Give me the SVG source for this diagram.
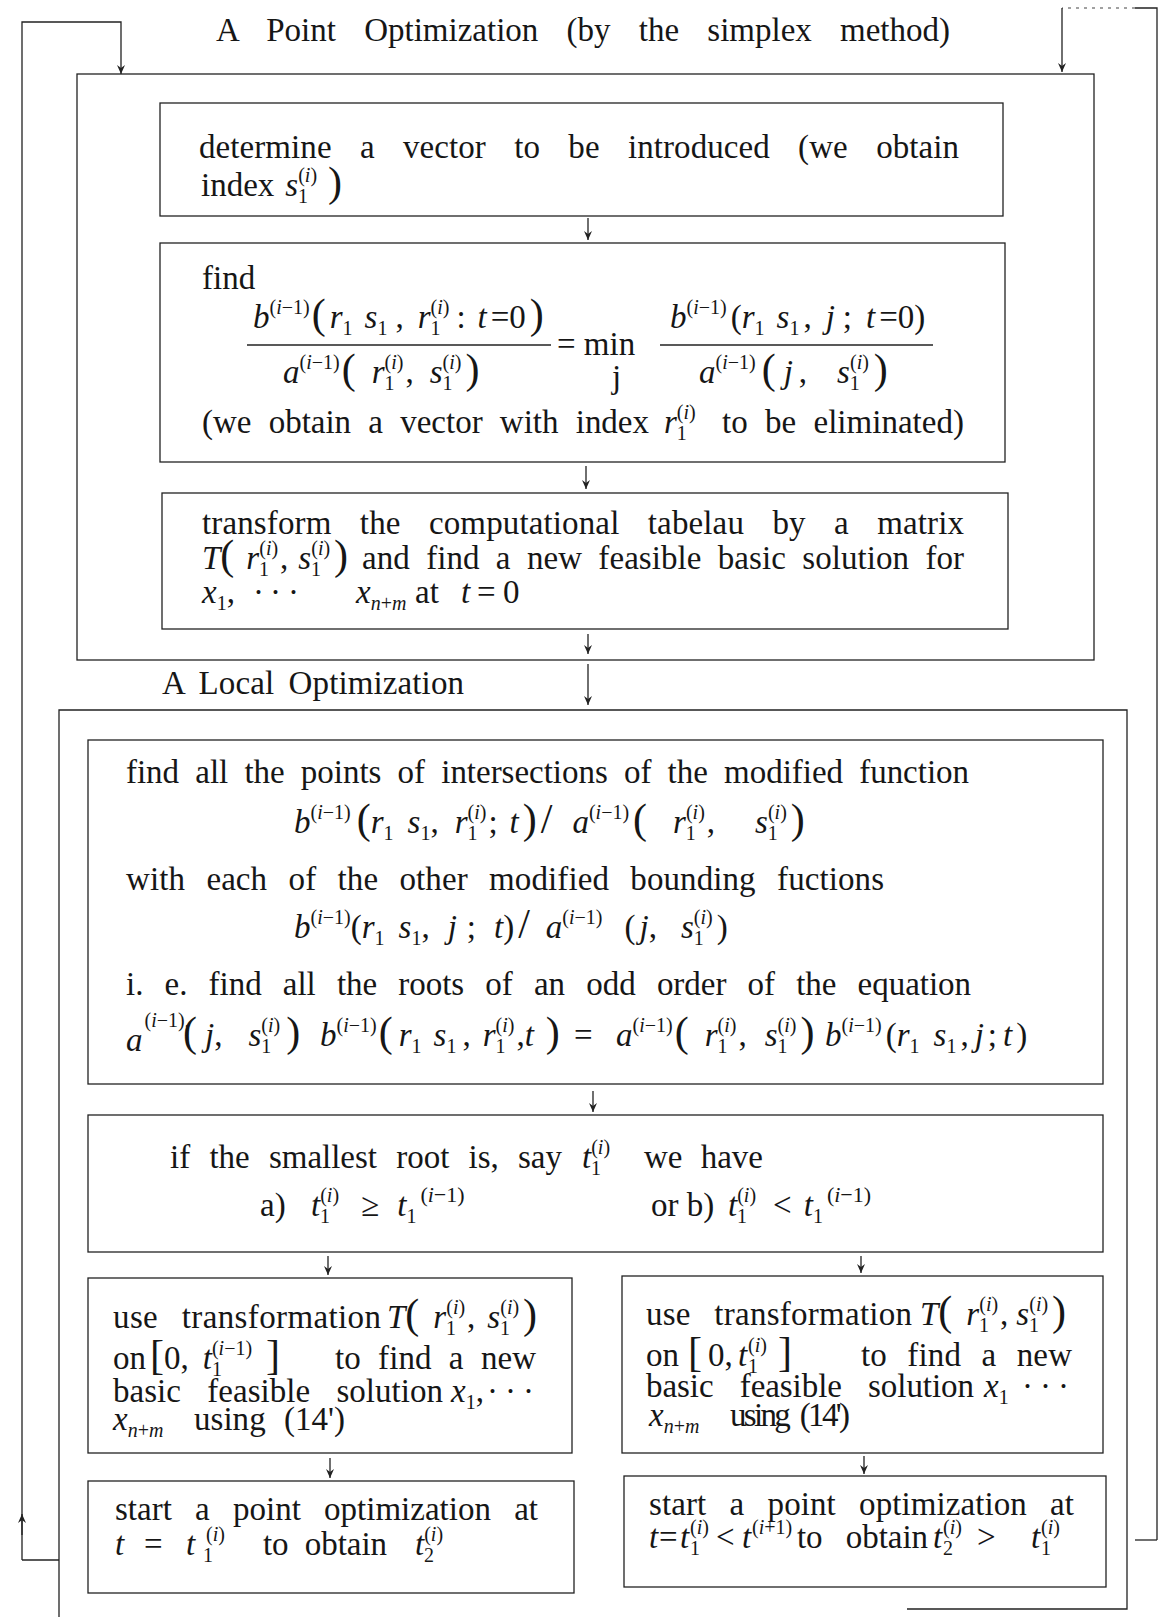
<svg xmlns="http://www.w3.org/2000/svg" width="1170" height="1617" viewBox="0 0 1170 1617">
<style>
.t{font-family:"Liberation Serif","DejaVu Serif",serif;font-size:33px;fill:#161616}
.i{font-style:italic}
.s{font-size:20px}
.p{font-size:42px}
.bx{fill:none;stroke:#222;stroke-width:1.3}
.ln{fill:none;stroke:#222;stroke-width:1.3}
.dot{fill:none;stroke:#444;stroke-width:1.2;stroke-dasharray:3 5}
</style>
<defs>
<marker id="ah" markerWidth="10" markerHeight="10" refX="9" refY="5" orient="auto" markerUnits="userSpaceOnUse" viewBox="0 0 10 10">
<path d="M0,1 L9,5 L0,9 L3,5 Z" fill="#222"/>
</marker>
</defs>
<rect width="1170" height="1617" fill="#fff"/>

<g id="connectors">
<path class="ln" d="M22,1560 V22 H121 V74" marker-end="url(#ah)"/>
<path class="ln" d="M22,1560 H59"/>
<path class="ln" d="M22,1535 V1514" marker-end="url(#ah)"/>
<path class="ln" d="M1157,1540 V8 H1135"/>
<path class="dot" d="M1135,8 H1062"/>
<path class="ln" d="M1062,8 V72" marker-end="url(#ah)"/>
<path class="ln" d="M1135,1540 H1157"/>
<path class="ln" d="M588,218 V240" marker-end="url(#ah)"/>
<path class="ln" d="M586,466 V489" marker-end="url(#ah)"/>
<path class="ln" d="M588,634 V654" marker-end="url(#ah)"/>
<path class="ln" d="M588,664 V705" marker-end="url(#ah)"/>
<path class="ln" d="M593,1091 V1112" marker-end="url(#ah)"/>
<path class="ln" d="M328,1256 V1275" marker-end="url(#ah)"/>
<path class="ln" d="M861,1256 V1273" marker-end="url(#ah)"/>
<path class="ln" d="M330,1458 V1478" marker-end="url(#ah)"/>
<path class="ln" d="M864,1456 V1474" marker-end="url(#ah)"/>
</g>

<g id="title">
<text class="t" x="216" y="41" textLength="734" lengthAdjust="spacing" word-spacing="20">A Point Optimization (by the simplex method)</text>
</g>

<g id="point-optimization">
<rect class="bx" x="77" y="74" width="1017" height="586"/>
</g>

<g id="determine-vector">
<rect class="bx" x="160" y="103" width="843" height="113"/>
<text class="t" x="199" y="158" textLength="760" lengthAdjust="spacing" word-spacing="20">determine a vector to be introduced (we obtain</text>
<text class="t" x="201" y="196">index<tspan class="i" dx="11">s</tspan><tspan class="s" dy="-14">(<tspan class="i">i</tspan>)</tspan><tspan class="s" dx="-19" dy="21">1</tspan><tspan class="p" dx="20" dy="-7">)</tspan></text>
</g>

<g id="find-ratio">
<rect class="bx" x="160" y="243" width="845" height="219"/>
<text class="t" x="202" y="289">find</text>
<text class="t" x="253" y="328"><tspan class="i">b</tspan><tspan class="s" dy="-14">(<tspan class="i">i</tspan>−1)</tspan><tspan class="p" dy="14" dx="2">(</tspan><tspan class="i" dx="4">r</tspan><tspan class="s" dy="7">1</tspan><tspan class="i" dx="12" dy="-7">s</tspan><tspan class="s" dy="7">1</tspan><tspan dy="-7" dx="8">,</tspan><tspan class="i" dx="14">r</tspan><tspan class="s" dy="-14">(<tspan class="i">i</tspan>)</tspan><tspan class="s" dx="-19" dy="21">1</tspan><tspan dx="16" dy="-7">:</tspan><tspan class="i" dx="12">t</tspan><tspan dx="4">=0</tspan><tspan class="p" dx="4">)</tspan></text>
<line class="ln" x1="247" y1="345" x2="551" y2="345"/>
<text class="t" x="283" y="383"><tspan class="i">a</tspan><tspan class="s" dy="-14">(<tspan class="i">i</tspan>−1)</tspan><tspan class="p" dy="14" dx="2">(</tspan><tspan class="i" dx="16">r</tspan><tspan class="s" dy="-14">(<tspan class="i">i</tspan>)</tspan><tspan class="s" dx="-19" dy="21">1</tspan><tspan dx="11" dy="-7">,</tspan><tspan class="i" dx="16">s</tspan><tspan class="s" dy="-14">(<tspan class="i">i</tspan>)</tspan><tspan class="s" dx="-19" dy="21">1</tspan><tspan class="p" dx="13" dy="-7">)</tspan></text>
<text class="t" x="557" y="355">= min</text>
<text class="t" x="612" y="388">j</text>
<text class="t" x="670" y="328"><tspan class="i">b</tspan><tspan class="s" dy="-14">(<tspan class="i">i</tspan>−1)</tspan><tspan dy="14" dx="4">(</tspan><tspan class="i">r</tspan><tspan class="s" dy="7">1</tspan><tspan class="i" dx="12" dy="-7">s</tspan><tspan class="s" dy="7">1</tspan><tspan dy="-7" dx="4">,</tspan><tspan class="i" dx="14">j</tspan><tspan dx="8">;</tspan><tspan class="i" dx="14">t</tspan><tspan dx="4">=0)</tspan></text>
<line class="ln" x1="660" y1="345" x2="933" y2="345"/>
<text class="t" x="699" y="383"><tspan class="i">a</tspan><tspan class="s" dy="-14">(<tspan class="i">i</tspan>−1)</tspan><tspan class="p" dy="14" dx="6">(</tspan><tspan class="i" dx="8">j</tspan><tspan dx="6">,</tspan><tspan class="i" dx="30">s</tspan><tspan class="s" dy="-14">(<tspan class="i">i</tspan>)</tspan><tspan class="s" dx="-19" dy="21">1</tspan><tspan class="p" dx="14" dy="-7">)</tspan></text>
<text class="t" x="202" y="433" textLength="447" lengthAdjust="spacing" word-spacing="9">(we obtain a vector with index</text>
<text class="t" x="664" y="433"><tspan class="i">r</tspan><tspan class="s" dy="-14">(<tspan class="i">i</tspan>)</tspan><tspan class="s" dx="-19" dy="21">1</tspan></text>
<text class="t" x="722" y="433" textLength="242" lengthAdjust="spacing" word-spacing="9">to be eliminated)</text>
</g>

<g id="transform-tableau">
<rect class="bx" x="162" y="493" width="846" height="136"/>
<text class="t" x="202" y="534" textLength="762" lengthAdjust="spacing" word-spacing="20">transform the computational tabelau by a matrix</text>
<text class="t" x="202" y="569"><tspan class="i">T</tspan><tspan class="p">(</tspan><tspan class="i" dx="12">r</tspan><tspan class="s" dy="-14">(<tspan class="i">i</tspan>)</tspan><tspan class="s" dx="-19" dy="21">1</tspan><tspan dx="11" dy="-7">,</tspan><tspan class="i" dx="10">s</tspan><tspan class="s" dy="-14">(<tspan class="i">i</tspan>)</tspan><tspan class="s" dx="-19" dy="21">1</tspan><tspan class="p" dx="13" dy="-7">)</tspan></text>
<text class="t" x="362" y="569" textLength="602" lengthAdjust="spacing" word-spacing="8">and find a new feasible basic solution for</text>
<text class="t" x="202" y="603"><tspan class="i">x</tspan><tspan class="s" dy="7">1</tspan><tspan dy="-7">,</tspan><tspan x="253">·</tspan><tspan x="270">·</tspan><tspan x="288">·</tspan></text>
<text class="t" x="356" y="603"><tspan class="i">x</tspan><tspan class="s i" dy="7">n</tspan><tspan class="s">+</tspan><tspan class="s i">m</tspan><tspan x="415" dy="-7">at</tspan><tspan class="i" x="461">t</tspan><tspan x="477">=</tspan><tspan x="503">0</tspan></text>
</g>

<g id="local-optimization">
<path class="bx" d="M59,1617 V710 H1127 V1609 H907"/>
<text class="t" x="162" y="694" textLength="302" lengthAdjust="spacing" word-spacing="6">A Local Optimization</text>
</g>

<g id="find-intersections">
<rect class="bx" x="88" y="740" width="1015" height="344"/>
<text class="t" x="126" y="783" textLength="843" lengthAdjust="spacing" word-spacing="8">find all the points of intersections of the modified function</text>
<text class="t" x="294" y="833"><tspan class="i">b</tspan><tspan class="s" dy="-14">(<tspan class="i">i</tspan>−1)</tspan><tspan class="p" dy="14" dx="6">(</tspan><tspan class="i">r</tspan><tspan class="s" dy="7">1</tspan><tspan class="i" dx="14" dy="-7">s</tspan><tspan class="s" dy="7">1</tspan><tspan dy="-7">,</tspan><tspan class="i" dx="16">r</tspan><tspan class="s" dy="-14">(<tspan class="i">i</tspan>)</tspan><tspan class="s" dx="-19" dy="21">1</tspan><tspan dx="11" dy="-7">;</tspan><tspan class="i" dx="12">t</tspan><tspan class="p" dx="4">)</tspan><tspan class="p" dx="4">/</tspan><tspan class="i" dx="20">a</tspan><tspan class="s" dy="-14">(<tspan class="i">i</tspan>−1)</tspan><tspan class="p" dy="14" dx="4">(</tspan><tspan class="i" dx="26">r</tspan><tspan class="s" dy="-14">(<tspan class="i">i</tspan>)</tspan><tspan class="s" dx="-19" dy="21">1</tspan><tspan dx="11" dy="-7">,</tspan><tspan class="i" dx="40">s</tspan><tspan class="s" dy="-14">(<tspan class="i">i</tspan>)</tspan><tspan class="s" dx="-19" dy="21">1</tspan><tspan class="p" dx="13" dy="-7">)</tspan></text>
<text class="t" x="126" y="890" textLength="758" lengthAdjust="spacing" word-spacing="13">with each of the other modified bounding fuctions</text>
<text class="t" x="294" y="938"><tspan class="i">b</tspan><tspan class="s" dy="-14">(<tspan class="i">i</tspan>−1)</tspan><tspan dy="14">(</tspan><tspan class="i">r</tspan><tspan class="s" dy="7">1</tspan><tspan class="i" dx="14" dy="-7">s</tspan><tspan class="s" dy="7">1</tspan><tspan dy="-7">,</tspan><tspan class="i" dx="18">j</tspan><tspan dx="10">;</tspan><tspan class="i" dx="18">t</tspan>)<tspan class="p" dx="4">/</tspan><tspan class="i" dx="16">a</tspan><tspan class="s" dy="-14">(<tspan class="i">i</tspan>−1)</tspan><tspan dx="22" dy="14">(</tspan><tspan class="i" dx="4">j</tspan>,<tspan class="i" dx="24">s</tspan><tspan class="s" dy="-14">(<tspan class="i">i</tspan>)</tspan><tspan class="s" dx="-19" dy="21">1</tspan><tspan dx="13" dy="-7">)</tspan></text>
<text class="t" x="126" y="995" textLength="845" lengthAdjust="spacing" word-spacing="13">i. e. find all the roots of an odd order of the equation</text>
<text class="t" x="126" y="1051"><tspan class="i">a</tspan><tspan class="s" dy="-24" dx="2">(<tspan class="i">i</tspan>−1),</tspan></text>
<text class="t" x="183" y="1046"><tspan class="p">(</tspan><tspan class="i" dx="8">j</tspan>,<tspan class="i" dx="26">s</tspan><tspan class="s" dy="-14">(<tspan class="i">i</tspan>)</tspan><tspan class="s" dx="-19" dy="21">1</tspan><tspan class="p" dx="15" dy="-7">)</tspan></text>
<text class="t" x="320" y="1046"><tspan class="i">b</tspan><tspan class="s" dy="-14">(<tspan class="i">i</tspan>−1)</tspan><tspan class="p" dy="14" dx="2">(</tspan><tspan class="i" dx="6">r</tspan><tspan class="s" dy="7">1</tspan><tspan class="i" dx="12" dy="-7">s</tspan><tspan class="s" dy="7">1</tspan><tspan dy="-7" dx="6">,</tspan><tspan class="i" dx="12">r</tspan><tspan class="s" dy="-14">(<tspan class="i">i</tspan>)</tspan><tspan class="s" dx="-19" dy="21">1</tspan><tspan dx="11" dy="-7">,</tspan><tspan class="i">t</tspan><tspan class="p" dx="12">)</tspan></text>
<text class="t" x="574" y="1046">=</text>
<text class="t" x="616" y="1046"><tspan class="i">a</tspan><tspan class="s" dy="-14">(<tspan class="i">i</tspan>−1)</tspan><tspan class="p" dy="14" dx="2">(</tspan><tspan class="i" dx="16">r</tspan><tspan class="s" dy="-14">(<tspan class="i">i</tspan>)</tspan><tspan class="s" dx="-19" dy="21">1</tspan><tspan dx="11" dy="-7">,</tspan><tspan class="i" dx="18">s</tspan><tspan class="s" dy="-14">(<tspan class="i">i</tspan>)</tspan><tspan class="s" dx="-19" dy="21">1</tspan><tspan class="p" dx="13" dy="-7">)</tspan></text>
<text class="t" x="825" y="1046"><tspan class="i">b</tspan><tspan class="s" dy="-14">(<tspan class="i">i</tspan>−1)</tspan><tspan dy="14" dx="4">(</tspan><tspan class="i">r</tspan><tspan class="s" dy="7">1</tspan><tspan class="i" dx="14" dy="-7">s</tspan><tspan class="s" dy="7">1</tspan><tspan dy="-7" dx="4">,</tspan><tspan class="i" dx="6">j</tspan><tspan dx="4">;</tspan><tspan class="i" dx="6">t</tspan><tspan dx="4">)</tspan></text>
</g>

<g id="smallest-root">
<rect class="bx" x="88" y="1115" width="1015" height="137"/>
<text class="t" x="170" y="1168" textLength="392" lengthAdjust="spacing" word-spacing="11">if the smallest root is, say</text>
<text class="t" x="582" y="1168"><tspan class="i">t</tspan><tspan class="s" dy="-14">(<tspan class="i">i</tspan>)</tspan><tspan class="s" dx="-19" dy="21">1</tspan></text>
<text class="t" x="644" y="1168" textLength="119" lengthAdjust="spacing" word-spacing="10">we have</text>
<text class="t" x="260" y="1216">a)</text>
<text class="t" x="311" y="1216"><tspan class="i">t</tspan><tspan class="s" dy="-14">(<tspan class="i">i</tspan>)</tspan><tspan class="s" dx="-19" dy="21">1</tspan><tspan dx="31" dy="-7">≥</tspan><tspan class="i" dx="18">t</tspan><tspan class="s" dy="7">1</tspan><tspan class="s" dy="-21" dx="4" style="font-size:22px">(<tspan class="i">i</tspan>−1)</tspan></text>
<text class="t" x="651" y="1216">or b)</text>
<text class="t" x="728" y="1216"><tspan class="i">t</tspan><tspan class="s" dy="-14">(<tspan class="i">i</tspan>)</tspan><tspan class="s" dx="-19" dy="21">1</tspan><tspan dx="26" dy="-7">&lt;</tspan><tspan class="i" dx="12">t</tspan><tspan class="s" dy="7">1</tspan><tspan class="s" dy="-21" dx="4" style="font-size:22px">(<tspan class="i">i</tspan>−1)</tspan></text>
</g>

<g id="transform-a">
<rect class="bx" x="88" y="1278" width="484" height="175"/>
<text class="t" x="113" y="1328" textLength="268" lengthAdjust="spacing" word-spacing="15">use transformation</text>
<text class="t" x="387" y="1328"><tspan class="i">T</tspan><tspan class="p">(</tspan><tspan class="i" dx="14">r</tspan><tspan class="s" dy="-14">(<tspan class="i">i</tspan>)</tspan><tspan class="s" dx="-19" dy="21">1</tspan><tspan dx="11" dy="-7">,</tspan><tspan class="i" dx="12">s</tspan><tspan class="s" dy="-14">(<tspan class="i">i</tspan>)</tspan><tspan class="s" dx="-19" dy="21">1</tspan><tspan class="p" dx="13" dy="-7">)</tspan></text>
<text class="t" x="113" y="1369">on<tspan class="p" dx="4">[</tspan>0,<tspan class="i" dx="14">t</tspan><tspan class="s" dy="-14">(<tspan class="i">i</tspan>−1)</tspan><tspan class="s" dx="-40" dy="21">1</tspan><tspan class="p" dx="44" dy="-7">]</tspan></text>
<text class="t" x="335" y="1369" textLength="201" lengthAdjust="spacing" word-spacing="9">to find a new</text>
<text class="t" x="113" y="1402" textLength="330" lengthAdjust="spacing" word-spacing="18">basic feasible solution</text>
<text class="t" x="451" y="1402"><tspan class="i">x</tspan><tspan class="s" dy="7">1</tspan><tspan dy="-7">,</tspan><tspan x="487">·</tspan><tspan x="505">·</tspan><tspan x="523">·</tspan></text>
<text class="t" x="113" y="1430"><tspan class="i">x</tspan><tspan class="s i" dy="7">n</tspan><tspan class="s">+</tspan><tspan class="s i">m</tspan></text>
<text class="t" x="194" y="1430" textLength="151" lengthAdjust="spacing" word-spacing="10">using (14')</text>
</g>

<g id="transform-b">
<rect class="bx" x="622" y="1276" width="481" height="177"/>
<text class="t" x="646" y="1325" textLength="266" lengthAdjust="spacing" word-spacing="15">use transformation</text>
<text class="t" x="920" y="1325"><tspan class="i">T</tspan><tspan class="p">(</tspan><tspan class="i" dx="14">r</tspan><tspan class="s" dy="-14">(<tspan class="i">i</tspan>)</tspan><tspan class="s" dx="-19" dy="21">1</tspan><tspan dx="11" dy="-7">,</tspan><tspan class="i" dx="8">s</tspan><tspan class="s" dy="-14">(<tspan class="i">i</tspan>)</tspan><tspan class="s" dx="-19" dy="21">1</tspan><tspan class="p" dx="13" dy="-7">)</tspan></text>
<text class="t" x="646" y="1366">on<tspan class="p" x="688">[</tspan><tspan x="708">0,</tspan><tspan class="i" x="738">t</tspan><tspan class="s" x="748" dy="-14">(<tspan class="i">i</tspan>)</tspan><tspan class="s" x="748" dy="21">1</tspan><tspan class="p" x="778" dy="-7">]</tspan></text>
<text class="t" x="861" y="1366" textLength="211" lengthAdjust="spacing" word-spacing="12">to find a new</text>
<text class="t" x="646" y="1397" textLength="328" lengthAdjust="spacing" word-spacing="18">basic feasible solution</text>
<text class="t" x="984" y="1397"><tspan class="i">x</tspan><tspan class="s" dy="7">1</tspan><tspan x="1022" dy="-7">·</tspan><tspan x="1040">·</tspan><tspan x="1058">·</tspan></text>
<text class="t" x="649" y="1426"><tspan class="i">x</tspan><tspan class="s i" dy="7">n</tspan><tspan class="s">+</tspan><tspan class="s i">m</tspan></text>
<text class="t" x="730" y="1426" textLength="120" lengthAdjust="spacing" word-spacing="6">using (14')</text>
</g>

<g id="start-point-a">
<rect class="bx" x="88" y="1481" width="486" height="112"/>
<text class="t" x="115" y="1520" textLength="423" lengthAdjust="spacing" word-spacing="15">start a point optimization at</text>
<text class="t" x="115" y="1555"><tspan class="i">t</tspan><tspan x="144">=</tspan><tspan class="i" x="186">t</tspan><tspan class="s" x="206" dy="-14">(<tspan class="i">i</tspan>)</tspan><tspan class="s" x="203" dy="21">1</tspan></text>
<text class="t" x="263" y="1555" textLength="124" lengthAdjust="spacing" word-spacing="8">to obtain</text>
<text class="t" x="415" y="1555"><tspan class="i">t</tspan><tspan class="s" dy="-14">(<tspan class="i">i</tspan>)</tspan><tspan class="s" dx="-19" dy="21">2</tspan></text>
</g>

<g id="start-point-b">
<rect class="bx" x="624" y="1476" width="482" height="111"/>
<text class="t" x="649" y="1515" textLength="425" lengthAdjust="spacing" word-spacing="15">start a point optimization at</text>
<text class="t" x="649" y="1548"><tspan class="i">t</tspan><tspan x="659">=</tspan><tspan class="i" x="680">t</tspan><tspan class="s" x="690" dy="-14">(<tspan class="i">i</tspan>)</tspan><tspan class="s" x="690" dy="21">1</tspan><tspan x="716" dy="-7">&lt;</tspan><tspan class="i" x="742">t</tspan><tspan class="s" x="752" dy="-14">(<tspan class="i">i</tspan>+1)</tspan></text>
<text class="t" x="797" y="1548" textLength="131" lengthAdjust="spacing" word-spacing="15">to obtain</text>
<text class="t" x="933" y="1548"><tspan class="i">t</tspan><tspan class="s" x="943" dy="-14">(<tspan class="i">i</tspan>)</tspan><tspan class="s" x="943" dy="21">2</tspan><tspan x="977" dy="-7">&gt;</tspan><tspan class="i" x="1031">t</tspan><tspan class="s" x="1041" dy="-14">(<tspan class="i">i</tspan>)</tspan><tspan class="s" x="1041" dy="21">1</tspan></text>
</g>
</svg>
